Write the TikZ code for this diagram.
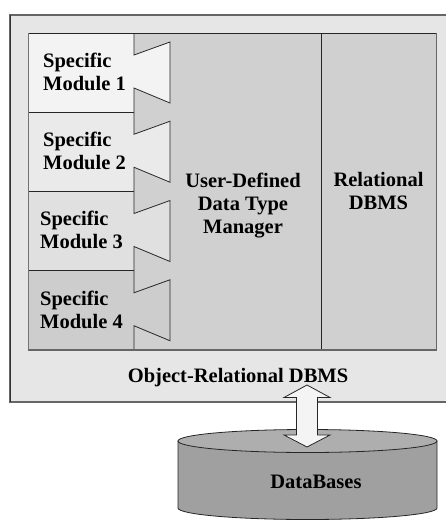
\documentclass[tikz,border=0pt]{standalone}
\usepackage{fontspec}
\setmainfont{Liberation Serif}
\definecolor{outerfill}{HTML}{E6E6E6}
\definecolor{outerline}{HTML}{666666}
\definecolor{mgrfill}{HTML}{D0D0D0}
\definecolor{mone}{HTML}{F3F3F3}
\definecolor{mtwo}{HTML}{EAEAEA}
\definecolor{mthree}{HTML}{E0E0E0}
\definecolor{mfour}{HTML}{CDCDCD}
\definecolor{dbside}{HTML}{A0A0A0}
\definecolor{dbtop}{HTML}{AEAEAE}
\definecolor{arrfill}{HTML}{F4F4F4}
\begin{document}
\begin{tikzpicture}[x=1pt,y=-1pt,
  lbl/.style={font=\fontsize{20.5}{23}\selectfont\bfseries, inner sep=0pt},
  thinline/.style={draw=black!85, line width=0.8pt},
  shadowline/.style={draw=black!60, line width=1.6pt}]
\useasboundingbox (0,0) rectangle (445,520);
% outer box
\fill[outerfill] (10,15) rectangle (450,402);
\draw[draw=outerline, line width=1.8pt] (450,15) -- (10,15) -- (10,402) -- (450,402);
\draw[black!80, line width=0.6pt] (10,15) -- (10,402);
% inner regions
\fill[mgrfill] (134,33) rectangle (436,350);
\foreach \t/\c/\n/\x in {33/mone/1/43, 112.25/mtwo/2/43, 191.5/mthree/3/40, 270.75/mfour/4/40}{
  \fill[\c] (28,\t) -- (134,\t) -- (134,\t+22) -- (170,\t+9) -- (170,\t+70) -- (134,\t+55) -- (134,\t+79.25) -- (28,\t+79.25) -- cycle;
  \draw[thinline] (134,\t) -- (134,\t+22) -- (170,\t+9) -- (170,\t+70) -- (134,\t+55) -- (134,\t+79.25);
  \draw[thinline] (28,\t) -- (134,\t);
  \node[lbl, anchor=north west, align=left] (mod\n) at (\x,\t+19.8) {Specific\\Module \n};
}
\draw[thinline] (321,33) -- (321,350);
\draw[thinline] (28,33) rectangle (436,350);
\draw[shadowline] (28,350) -- (436.5,350) -- (436.5,33);
\draw[draw=black!55, line width=1pt] (28,33) -- (28,350);
% labels
\node[lbl, anchor=north, align=center] (udt) at (243,172.8) {User-Defined\\Data Type\\Manager};
\node[lbl, anchor=north, align=center] (rel) at (378.5,172.2) {Relational\\DBMS};
\node[lbl, anchor=base] (ordbms) at (238,382) {Object-Relational DBMS};
% database cylinder
\coordinate (dbtopc) at (307.5,441);
\coordinate (dbbotc) at (307.5,508);
\filldraw[fill=dbside, thinline] (178,441) -- (178,508) arc[start angle=180, end angle=0, x radius=129.5, y radius=11.5] -- (437,441) -- cycle;
\filldraw[fill=dbtop, thinline] (dbtopc) ellipse [x radius=129.5, y radius=11.5];
\node[lbl, anchor=base] (db) at (316,488) {DataBases};
% double block arrow
\coordinate (atop) at (307,385);
\coordinate (abot) at (307,447);
\filldraw[fill=arrfill, thinline] (atop) -- ++(23,12.5) -- ++(-12.5,0) -- ++(0,37.5) -- ++(12.5,0) -- (abot) -- ++(-23,-12) -- ++(12.5,0) -- ++(0,-37.5) -- ++(-12.5,0) -- cycle;
\end{tikzpicture}
\end{document}
